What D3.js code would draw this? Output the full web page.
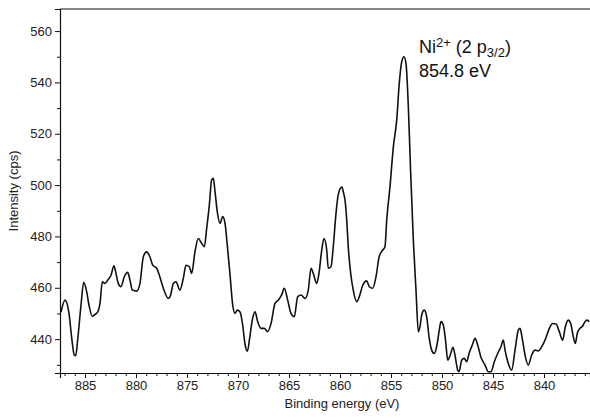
<!DOCTYPE html>
<html><head><meta charset="utf-8">
<script src="https://cdn.jsdelivr.net/npm/d3@7"></script>
<style>
body{margin:0;background:#fff;}
svg{display:block;font-family:"Liberation Sans",Arial,Helvetica,sans-serif;}
</style></head>
<body><svg id="c" width="590" height="419"></svg>
<script>
const energy = [887.35,886.96,886.57,886.30,886.05,885.91,885.72,885.39,885.13,884.83,884.61,884.28,884.02,883.75,883.53,883.30,883.04,882.77,882.45,882.16,881.99,881.74,881.47,881.15,880.81,880.59,880.36,879.93,879.61,879.28,878.95,878.63,878.36,877.97,877.72,877.32,876.83,876.60,876.34,876.08,875.69,875.36,875.10,874.77,874.54,874.22,873.89,873.56,873.30,873.07,872.81,872.58,872.42,872.25,872.03,871.76,871.50,871.27,871.05,870.78,870.52,870.29,870.07,869.80,869.54,869.31,869.07,868.87,868.60,868.33,868.07,867.75,867.42,867.09,866.76,866.37,866.05,865.72,865.46,865.13,864.80,864.48,864.15,863.82,863.43,863.11,862.84,862.62,862.28,862.06,861.79,861.57,861.30,861.15,860.88,860.66,860.42,860.23,859.97,859.81,859.68,859.51,859.34,859.19,858.95,858.70,858.36,858.11,857.77,857.38,857.13,856.79,856.47,856.15,855.81,855.59,855.42,855.10,854.77,854.44,854.19,853.95,853.73,853.53,853.30,853.07,852.81,852.55,852.32,852.16,851.99,851.74,851.50,851.27,851.01,850.76,850.49,850.29,850.10,849.87,849.64,849.44,849.19,848.92,848.73,848.46,848.33,848.07,847.81,847.58,847.35,847.03,846.76,846.50,846.18,845.78,845.46,845.20,844.87,844.54,844.22,843.99,843.82,843.50,843.17,842.84,842.52,842.35,842.16,841.86,841.54,841.21,840.88,840.56,840.23,839.90,839.48,839.15,838.82,838.50,838.17,837.91,837.62,837.38,837.13,836.93,836.74,836.47,836.21,835.98,835.75,835.56];
const intensity = [450.5,455.2,450.1,440.4,433.8,433.5,439.6,453.3,462.1,458.4,453.3,448.9,449.6,450.6,453.9,462.3,461.7,463.0,464.9,468.6,466.2,461.7,460.4,464.3,466.0,463.0,459.1,458.7,461.7,472.1,474.0,472.0,468.8,467.6,465.0,459.8,455.9,457.2,461.7,462.3,459.1,463.7,468.8,468.2,465.6,474.0,479.2,477.3,476.0,483.1,492.2,502.0,502.6,497.4,489.6,485.1,487.7,485.1,476.6,465.0,453.3,450.0,451.3,450.6,445.5,438.0,435.3,440.0,447.4,450.6,446.8,444.2,444.2,442.9,446.1,453.9,455.2,457.2,459.8,455.2,450.0,448.7,456.5,457.2,455.8,459.1,467.6,465.6,461.7,465.6,474.7,479.2,474.7,467.6,468.2,476.0,487.7,494.8,498.7,499.2,497.4,494.2,486.4,476.0,465.6,459.1,454.6,456.5,461.0,462.7,460.4,459.8,464.3,472.3,474.7,476.0,486.4,499.3,514.9,525.3,539.6,548.0,550.0,547.4,530.5,504.6,478.6,459.1,442.9,444.8,449.4,451.3,448.7,440.9,435.7,434.4,437.7,442.9,446.8,445.5,439.0,431.8,433.8,436.8,433.8,427.9,427.3,431.8,432.5,431.2,434.4,437.7,440.3,437.7,432.9,429.9,427.3,427.3,431.2,434.4,437.0,439.6,435.7,430.5,427.9,435.7,443.5,444.2,440.9,433.8,429.9,433.8,435.7,435.4,437.0,439.6,444.2,446.1,445.9,442.9,439.6,444.8,447.4,446.1,440.9,438.3,442.2,444.2,445.1,446.8,447.4,446.8];
const xMajorTicks = [885,880,875,870,865,860,855,850,845,840];
const yMajorTicks = [440,460,480,500,520,540,560];
const xLabel = "Binding energy (eV)";
const yLabel = "Intensity (cps)";

const svg = d3.select("#c");
const L = 60, R = 590, T = 9, B = 373;
const x = d3.scaleLinear().domain([887.45, 835.49]).range([L, R]);
const y = d3.scaleLinear().domain([426.8, 568.6]).range([B, T]);

const xMinor = d3.range(836, 888).filter(v => v % 5 !== 0);
const yMinor = d3.range(430, 570, 20);

svg.append("defs").append("clipPath").attr("id","clip")
  .append("rect").attr("x",L).attr("y",T).attr("width",R-L).attr("height",B-T);
const pts = energy.map((e,i)=>[e,intensity[i]]);
svg.append("path").datum(pts)
  .attr("clip-path","url(#clip)")
  .attr("fill","none").attr("stroke","#111").attr("stroke-width",1.6)
  .attr("stroke-linejoin","round")
  .attr("d", d3.line().x(d=>x(d[0])).y(d=>y(d[1])).curve(d3.curveMonotoneX));

svg.append("g").attr("transform",`translate(0,${B})`)
  .call(d3.axisBottom(x).tickValues(xMajorTicks).tickSize(5).tickPadding(3).tickFormat(d3.format("d")));
svg.append("g").attr("transform",`translate(0,${B})`)
  .call(d3.axisBottom(x).tickValues(xMinor).tickSize(3).tickFormat(""))
  .call(g=>g.select(".domain").remove());
svg.append("g").attr("transform",`translate(${L},0)`)
  .call(d3.axisLeft(y).tickValues(yMajorTicks).tickSize(5).tickPadding(3).tickFormat(d3.format("d")));
svg.append("g").attr("transform",`translate(${L},0)`)
  .call(d3.axisLeft(y).tickValues(yMinor).tickSize(3).tickFormat(""))
  .call(g=>g.select(".domain").remove());
svg.selectAll(".domain").attr("stroke","#111").attr("stroke-width",1.2);
svg.selectAll(".tick line").attr("stroke","#111");
svg.selectAll(".tick text").attr("font-size",13).attr("fill","#222")
  .attr("font-family","'Liberation Sans',Arial,sans-serif");
svg.append("line").attr("x1",L).attr("x2",R).attr("y1",T).attr("y2",T)
  .attr("stroke","#111").attr("stroke-width",1.2);

svg.append("text").attr("x",(L+R)/2+17).attr("y",408).attr("text-anchor","middle")
  .attr("font-size",13).attr("fill","#222").text(xLabel);
svg.append("text").attr("transform",`translate(18,${(T+B)/2}) rotate(-90)`)
  .attr("text-anchor","middle").attr("font-size",13).attr("fill","#222").text(yLabel);

const a1 = svg.append("text").attr("x",419).attr("y",53).attr("font-size",18).attr("fill","#111");
a1.append("tspan").text("Ni");
a1.append("tspan").attr("font-size",13).attr("dy",-6).text("2+");
a1.append("tspan").attr("dy",6).text(" (2 p");
a1.append("tspan").attr("font-size",13).attr("dy",4).text("3/2");
a1.append("tspan").attr("dy",-4).text(")");
svg.append("text").attr("x",419).attr("y",77).attr("font-size",18).attr("fill","#111").text("854.8 eV");
</script></body></html>
